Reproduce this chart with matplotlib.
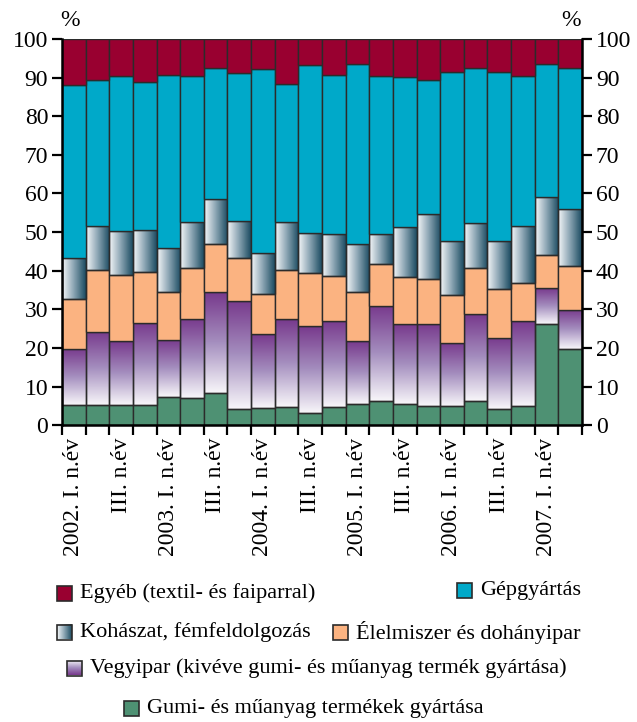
import numpy as np
import matplotlib
matplotlib.use('Agg')
import matplotlib.pyplot as plt
from matplotlib.colors import LinearSegmentedColormap
from matplotlib.patches import Rectangle

plt.rcParams['font.family'] = ['Liberation Serif', 'DejaVu Serif']

# quarterly shares, % (bottom to top)
gumi = [5.2, 5.2, 5.2, 5.2, 7.3, 7.0, 8.4, 4.1, 4.5, 4.8, 3.1,
        4.6, 5.6, 6.3, 5.6, 4.9, 4.9, 6.3, 4.1, 4.9, 26.3, 19.7]
vegyipar = [14.5, 19.0, 16.5, 21.4, 14.8, 20.6, 26.0, 28.1, 19.0, 22.6, 22.5,
            22.4, 16.1, 24.6, 20.7, 21.4, 16.5, 22.5, 18.6, 22.0, 9.3, 10.1]
elelmiszer = [12.9, 16.1, 17.2, 13.0, 12.3, 13.1, 12.6, 11.2, 10.4, 12.9, 13.7,
              11.6, 12.7, 10.8, 12.0, 11.5, 12.3, 11.9, 12.7, 9.8, 8.6, 11.5]
kohaszat = [10.8, 11.3, 11.4, 10.9, 11.5, 12.0, 11.5, 9.6, 10.6, 12.4, 10.5,
            10.8, 12.6, 7.7, 12.9, 16.9, 14.1, 11.6, 12.4, 14.9, 14.8, 14.8]
gepgyartas = [44.6, 37.8, 40.2, 38.3, 44.9, 37.8, 34.1, 38.2, 47.7, 35.7, 43.5,
              41.4, 46.6, 41.1, 39.0, 34.8, 43.7, 40.3, 43.7, 38.9, 34.6, 36.5]
egyeb = [12.0, 10.6, 9.5, 11.2, 9.2, 9.5, 7.4, 8.8, 7.8, 11.6, 6.7,
         9.2, 6.4, 9.5, 9.8, 10.5, 8.5, 7.4, 8.5, 9.5, 6.4, 7.4]

tick_labels = ['2002. I. n.év', 'III. n.év', '2003. I. n.év', 'III. n.év',
               '2004. I. n.év', 'III. n.év', '2005. I. n.év', 'III. n.év',
               '2006. I. n.év', 'III. n.év', '2007. I. n.év']

EDGE = '#2b2b2b'
C_EGYEB = '#990030'
C_GEP = '#00a9c9'
C_ELEL = '#fbb381'
C_GUMI = '#4e9173'
koh_cmap = LinearSegmentedColormap.from_list('koh', ['#f6f8fa', '#8aa4b2', '#1c4c62'])
veg_cmap = LinearSegmentedColormap.from_list('veg', ['#f7f5f9', '#a58fbf', '#783a8d'])

fig = plt.figure(figsize=(6.37, 7.22), dpi=100)
ax = fig.add_axes([0.0975, 0.411, 0.816, 0.535])

x = np.arange(len(gumi))
bottom = np.zeros(len(gumi))


def gradient_fill(bars, cmap, horizontal):
    for r in bars:
        x0, y0, w, h = r.get_x(), r.get_y(), r.get_width(), r.get_height()
        if horizontal:
            grad = np.linspace(0, 1, 64).reshape(1, -1)
        else:
            grad = np.linspace(0, 1, 64).reshape(-1, 1)
        ax.imshow(grad, cmap=cmap, extent=[x0, x0 + w, y0, y0 + h],
                  origin='lower', aspect='auto', zorder=1, interpolation='bilinear')


series = [(gumi, C_GUMI, None), (vegyipar, None, 'veg'), (elelmiszer, C_ELEL, None),
          (kohaszat, None, 'koh'), (gepgyartas, C_GEP, None), (egyeb, C_EGYEB, None)]
for vals, col, grad in series:
    vals = np.array(vals)
    bars = ax.bar(x, vals, width=1.0, bottom=bottom,
                  color=col if col else 'none', edgecolor=EDGE, linewidth=1.0, zorder=2)
    if grad == 'veg':
        gradient_fill(bars, veg_cmap, horizontal=False)
    elif grad == 'koh':
        gradient_fill(bars, koh_cmap, horizontal=True)
    bottom += vals

ax.set_xlim(-0.5, len(gumi) - 0.5)
ax.set_ylim(0, 100)
ax.set_yticks(range(0, 101, 10))
ax.tick_params(axis='y', direction='out', length=7, width=1.6, labelsize=17, pad=3)
ax.spines['top'].set_visible(False)
ax.spines['right'].set_visible(False)
for s in ['left', 'bottom']:
    ax.spines[s].set_linewidth(1.8)
    ax.spines[s].set_zorder(5)

ax.set_xticks(np.arange(-0.5, len(gumi), 1.0))
ax.set_xticklabels([])
ax.tick_params(axis='x', which='major', direction='out', length=7, width=1.6)
ax.set_xticks(x[::2], minor=True)
ax.set_xticklabels(tick_labels, minor=True, rotation=90, fontsize=17, va='top')
ax.tick_params(axis='x', which='minor', length=0, pad=9)

ax2 = ax.twinx()
ax2.set_ylim(0, 100)
ax2.set_yticks(range(0, 101, 10))
ax2.tick_params(axis='y', direction='out', length=7, width=1.6, labelsize=17, pad=3)
for s in ['top', 'left', 'bottom']:
    ax2.spines[s].set_visible(False)
ax2.spines['right'].set_linewidth(1.8)

fig.text(70 / 637, 1 - 20 / 722, '%', fontsize=17, ha='center', va='center')
fig.text(571 / 637, 1 - 20 / 722, '%', fontsize=17, ha='center', va='center')

# legend drawn in pixel coordinates
lg = fig.add_axes([0, 0, 1, 1], zorder=-1)
lg.set_xlim(0, 637)
lg.set_ylim(722, 0)
lg.axis('off')

legend_items = [
    (57, 593, C_EGYEB, None, 'Egyéb (textil- és faiparral)'),
    (457, 590, C_GEP, None, 'Gépgyártás'),
    (57, 632, None, 'koh', 'Kohászat, fémfeldolgozás'),
    (333, 632, C_ELEL, None, 'Élelmiszer és dohányipar'),
    (67, 668, None, 'veg', 'Vegyipar (kivéve gumi- és műanyag termék gyártása)'),
    (124, 708, C_GUMI, None, 'Gumi- és műanyag termékek gyártása'),
]
sq = 15
for lx, ly, col, grad, label in legend_items:
    if grad == 'koh':
        lg.imshow(np.linspace(0, 1, 64).reshape(1, -1), cmap=koh_cmap,
                  extent=[lx, lx + sq, ly + sq / 2, ly - sq / 2], aspect='auto')
    elif grad == 'veg':
        lg.imshow(np.linspace(0, 1, 64).reshape(-1, 1), cmap=veg_cmap,
                  extent=[lx, lx + sq, ly + sq / 2, ly - sq / 2], origin='upper', aspect='auto')
    lg.add_patch(Rectangle((lx, ly - sq / 2), sq, sq, facecolor=col if col else 'none',
                           edgecolor=EDGE, linewidth=1.2, zorder=3))
    lg.text(lx + sq + 8, ly, label, fontsize=16, ha='left', va='center')
lg.set_xlim(0, 637)
lg.set_ylim(722, 0)

fig.savefig('out.png', dpi=100, facecolor='white')
